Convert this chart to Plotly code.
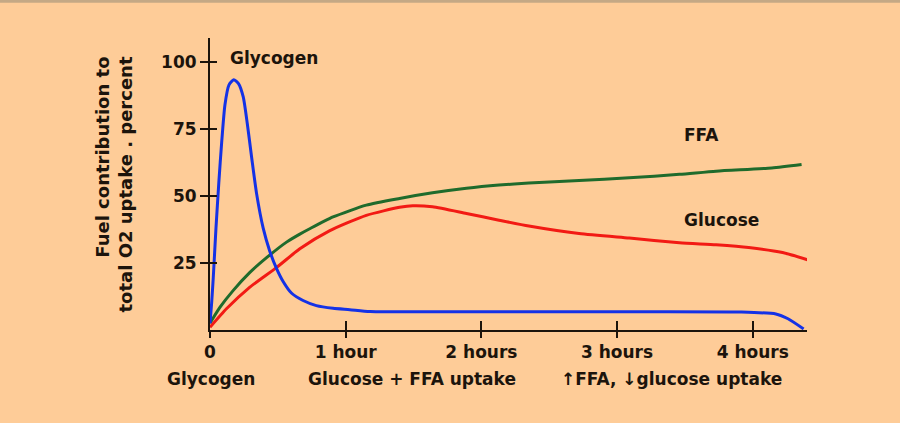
import plotly.graph_objects as go

# ---- data ----
glycogen_x = [0, 0.012, 0.024, 0.044, 0.065, 0.086, 0.11, 0.14, 0.175, 0.21, 0.245, 0.275,
              0.307, 0.343, 0.392, 0.44, 0.49, 0.54, 0.6, 0.686, 0.784, 0.907,
              1.03, 1.18, 2.0, 3.0, 3.9, 4.17, 4.26, 4.375]
glycogen_y = [2.5, 10, 19.5, 38, 55, 70, 84, 91.5, 93.4, 92, 87, 77,
              64.4, 51, 38, 29.5, 23, 18, 13.8, 11, 9.1, 8.1,
              7.6, 6.9, 6.8, 6.8, 6.7, 6.0, 4.2, 0.4]

ffa_x = [0, 0.074, 0.17, 0.294, 0.417, 0.564, 0.662, 0.735, 0.907, 1.152, 1.397, 1.64,
         1.89, 2.13, 2.35, 2.72, 3.09, 3.46, 3.73, 4.14, 4.36]
ffa_y = [2.5, 8.5, 14.7, 21.5, 27, 32.8, 35.8, 37.8, 42.2, 46.6, 49.1, 51.2,
         52.9, 54.1, 54.9, 55.8, 56.8, 58.1, 59.3, 60.5, 61.8]

glucose_x = [0, 0.123, 0.294, 0.49, 0.662, 0.88, 1.152, 1.397, 1.495, 1.64, 1.89, 2.13,
             2.35, 2.72, 3.09, 3.46, 3.73, 3.97, 4.22, 4.41]
glucose_y = [1, 8, 16, 23.3, 30.3, 37, 42.8, 45.8, 46.4, 46, 43.5, 41,
             38.8, 36.0, 34.3, 32.6, 31.8, 30.8, 28.9, 26.1]

x_tick_vals = [0, 1, 2, 3, 4]
x_tick_text = ["0", "1 hour", "2 hours", "3 hours", "4 hours"]
y_tick_vals = [25, 50, 75, 100]
y_tick_text = ["25", "50", "75", "100"]

phase_labels = ["Glycogen", "Glucose + FFA uptake", "\u2191FFA, \u2193glucose uptake"]
phase_x = [0.007, 1.49, 3.40]

BG = "#FECC98"
INK = "#1C140C"
FONT = "DejaVu Sans"
FS = 17

fig = go.Figure()
line_kw = dict(width=3, shape="spline", smoothing=0.6)
fig.add_trace(go.Scatter(x=ffa_x, y=ffa_y, mode="lines", line=dict(color="#1F6B2C", **line_kw), cliponaxis=False))
fig.add_trace(go.Scatter(x=glucose_x, y=glucose_y, mode="lines", line=dict(color="#F21A14", **line_kw), cliponaxis=False))
fig.add_trace(go.Scatter(x=glycogen_x, y=glycogen_y, mode="lines", line=dict(color="#1432E6", **line_kw), cliponaxis=False))
# invisible trace to activate overlay axes (inside ticks)
fig.add_trace(go.Scatter(x=[None], y=[None], xaxis="x2", yaxis="y2", showlegend=False))

bold = dict(family=FONT, size=FS, color=INK, weight="bold")
axis_common = dict(showgrid=False, zeroline=False, tickcolor=INK, tickwidth=2)
fig.update_layout(
    width=900, height=423,
    paper_bgcolor=BG, plot_bgcolor=BG,
    margin=dict(l=210, r=93, t=38, b=93),
    showlegend=False,
    font=dict(family=FONT, size=FS, color=INK),
    xaxis=dict(range=[0, 4.4], tickvals=x_tick_vals, ticktext=x_tick_text, ticks="outside", ticklen=6,
               showline=True, linecolor=INK, linewidth=2, tickfont=bold, **axis_common),
    yaxis=dict(range=[0, 109], tickvals=y_tick_vals, ticktext=y_tick_text, ticks="outside", ticklen=8,
               showline=True, linecolor=INK, linewidth=2, tickfont=bold, **axis_common),
    xaxis2=dict(range=[0, 4.4], overlaying="x", anchor="y", tickvals=x_tick_vals, ticks="inside", ticklen=9,
                showticklabels=False, showline=False, **axis_common),
    yaxis2=dict(range=[0, 109], overlaying="y", anchor="x", tickvals=y_tick_vals, ticks="inside", ticklen=7,
                showticklabels=False, showline=False, **axis_common),
)

annotations = [
    dict(x=0.13, y=101.5, xref="x", yref="y", text="Glycogen", showarrow=False, xanchor="left", yanchor="middle", font=bold),
    dict(x=3.48, y=72.8, xref="x", yref="y", text="FFA", showarrow=False, xanchor="left", yanchor="middle", font=bold),
    dict(x=3.48, y=41, xref="x", yref="y", text="Glucose", showarrow=False, xanchor="left", yanchor="middle", font=bold),
    dict(x=-0.1616, y=0.4966, xref="paper", yref="paper", text="Fuel contribution to<br>total O2 uptake . percent",
         textangle=-90, showarrow=False, xanchor="center", yanchor="middle", align="right",
         font=dict(family=FONT, size=18, color=INK, weight="bold")),
]
for lbl, px in zip(phase_labels, phase_x):
    annotations.append(dict(x=px, y=-0.168, xref="x", yref="paper", text=lbl, showarrow=False,
                            xanchor="center", yanchor="middle", font=bold))
fig.update_layout(annotations=annotations)

fig.add_shape(type="rect", xref="paper", yref="paper", x0=-0.36, x1=1.16, y0=1.121, y1=1.135,
              line=dict(width=0), fillcolor="#C4A885", layer="above")

fig.write_html("out.html")
